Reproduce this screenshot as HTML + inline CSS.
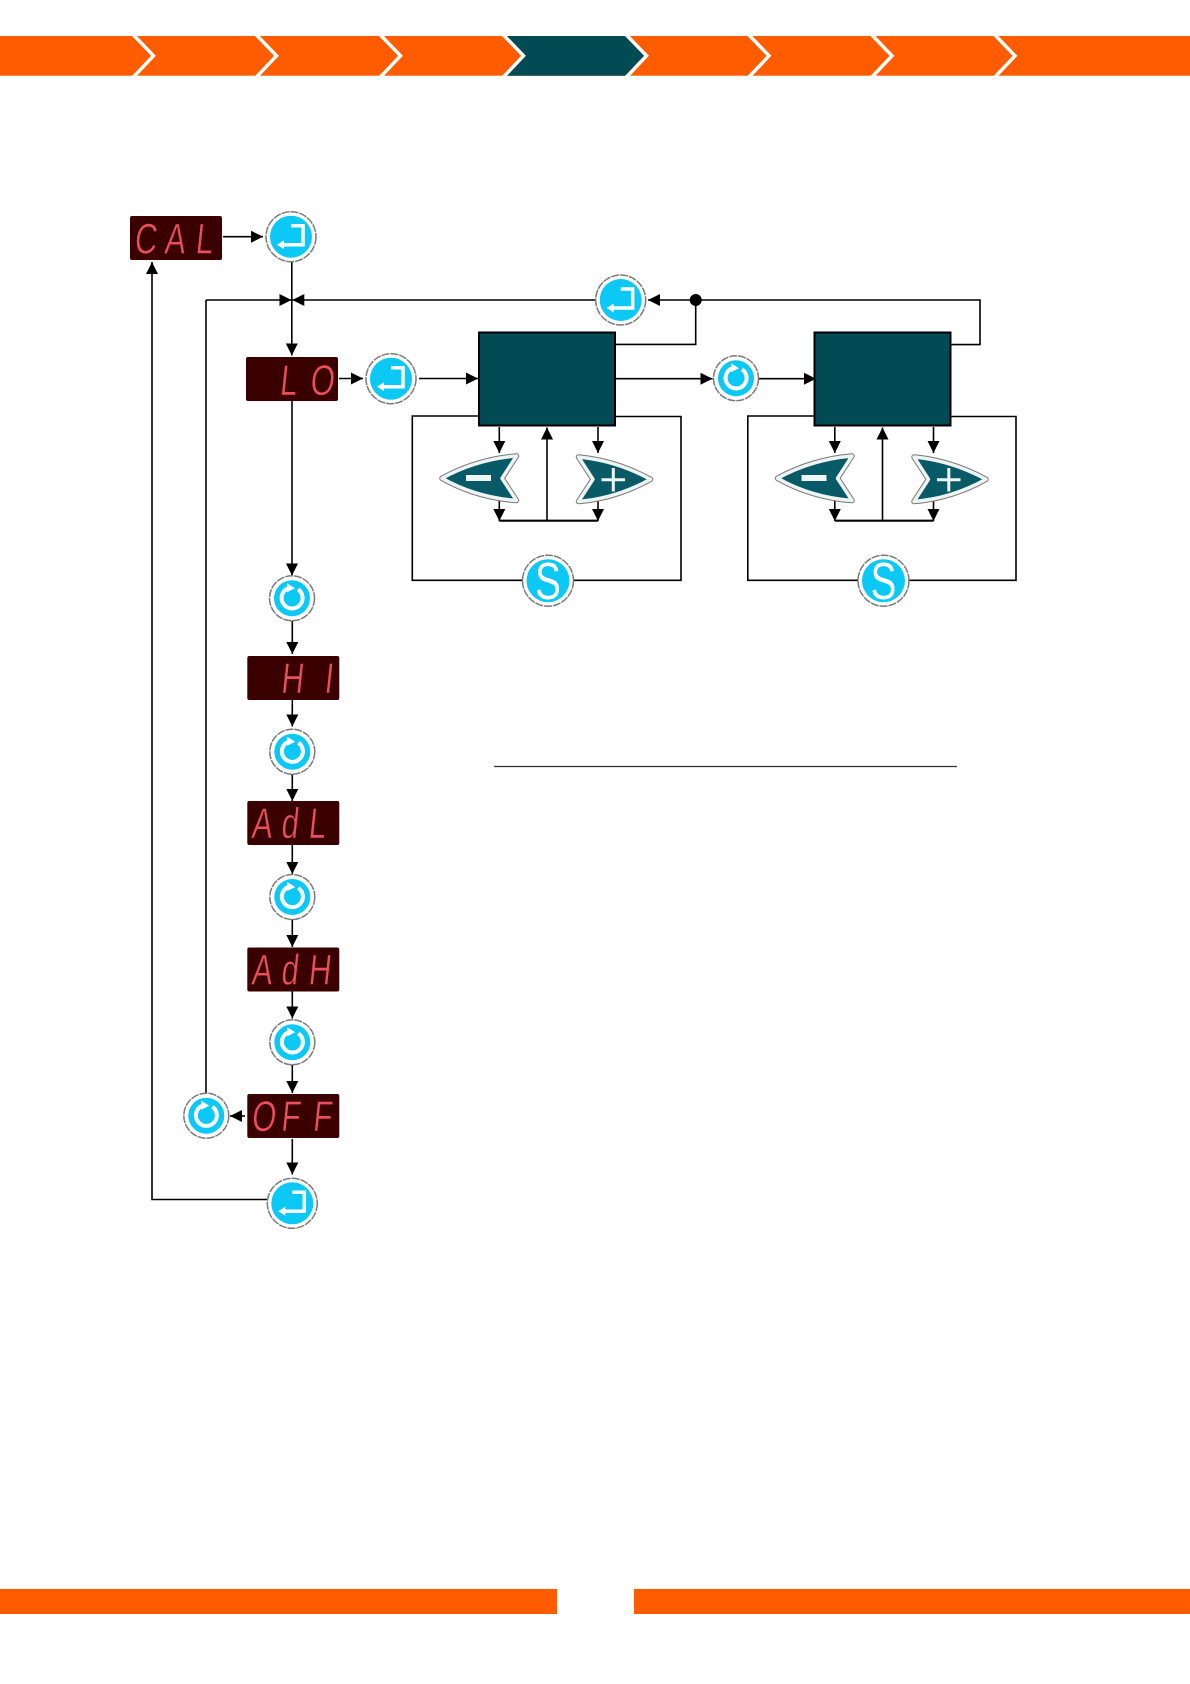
<!DOCTYPE html>
<html lang="en">
<head>
<meta charset="utf-8">
<title>Calibration menu diagram</title>
<style>
html,body{margin:0;padding:0;background:#fff}
svg{display:block}
.l{stroke:#000;stroke-width:1.6;fill:none}
.d{font-family:"Liberation Sans",sans-serif;font-size:43px;fill:#ea4f5c;stroke:#3a0000;stroke-width:.6;paint-order:fill stroke}
.s{font-family:"Liberation Sans",sans-serif;font-size:52px;fill:#fff}
</style>
</head>
<body>
<svg width="1190" height="1684" viewBox="0 0 1190 1684" xmlns="http://www.w3.org/2000/svg">
<defs>
<marker id="a" markerUnits="userSpaceOnUse" markerWidth="13" markerHeight="13" refX="12" refY="6" orient="auto"><path d="M0,0 L12,6 L0,12 Z" fill="#000"/></marker>
<g id="enter">
<circle r="25" fill="#fff" stroke="#7a7a7a" stroke-width="1.5" stroke-dasharray="8 1"/>
<circle r="21" fill="#0cc8f4"/>
<path d="M0,-11 H12 V8 H-9" fill="none" stroke="#fff" stroke-width="3.5"/>
<path d="M-14,8 L-7,3.5 V12.5 Z" fill="#fff"/>
</g>
<g id="rot">
<circle r="22.5" fill="#fff" stroke="#7a7a7a" stroke-width="1.5" stroke-dasharray="8 1"/>
<circle r="18" fill="#0cc8f4"/>
<path d="M-4,-10 A10.5,10.5 0 1 0 6,-9" fill="none" stroke="#fff" stroke-width="4"/>
<path d="M-5,-15 L3,-10 L-5,-6 Z" fill="#fff"/>
</g>
<g id="btn">
<circle r="25.5" fill="#fff" stroke="#7a7a7a" stroke-width="1.5" stroke-dasharray="8 1"/>
<circle r="21.5" fill="#0cc8f4"/>
</g>
</defs>

<!-- top chevron bar -->
<rect x="0" y="36" width="1190" height="39.7" fill="#ff5c00"/>
<polygon points="502.5,36 523.5,55.8 502.5,75.7 625.5,75.7 646.5,55.8 625.5,36" fill="#024a54"/>
<g fill="none" stroke="#fff" stroke-width="3.5">
<polyline points="132.5,34 153.5,55.8 132.5,78"/>
<polyline points="255.5,34 276.5,55.8 255.5,78"/>
<polyline points="379.5,34 400.5,55.8 379.5,78"/>
<polyline points="502.5,34 523.5,55.8 502.5,78"/>
<polyline points="625.5,34 646.5,55.8 625.5,78"/>
<polyline points="748,34 769,55.8 748,78"/>
<polyline points="871,34 892,55.8 871,78"/>
<polyline points="994,34 1015,55.8 994,78"/>
</g>

<!-- bottom bars -->
<rect x="0" y="1589" width="557" height="25" fill="#ff5c00"/>
<rect x="634" y="1589" width="556" height="25" fill="#ff5c00"/>

<!-- divider -->
<line x1="494" y1="766.5" x2="957" y2="766.5" stroke="#333" stroke-width="1.2"/>

<!-- main connectors -->
<line class="l" x1="223" y1="236.7" x2="263" y2="236.7" marker-end="url(#a)"/>
<line class="l" x1="291.8" y1="262" x2="291.8" y2="355.5" marker-end="url(#a)"/>
<line class="l" x1="206" y1="300" x2="291.5" y2="300" marker-end="url(#a)"/>
<line class="l" x1="596" y1="300" x2="292.3" y2="300" marker-end="url(#a)"/>
<line class="l" x1="206" y1="300" x2="206" y2="1093"/>
<line class="l" x1="339" y1="378.5" x2="363" y2="378.5" marker-end="url(#a)"/>
<line class="l" x1="419" y1="378.5" x2="478" y2="378.5" marker-end="url(#a)"/>
<line class="l" x1="616" y1="378.7" x2="712.5" y2="378.7" marker-end="url(#a)"/>
<line class="l" x1="759" y1="378.7" x2="816" y2="378.7" marker-end="url(#a)"/>
<polyline class="l" points="616,344.4 695.7,344.4 695.7,300"/>
<line class="l" x1="695.7" y1="300" x2="648" y2="300" marker-end="url(#a)"/>
<polyline class="l" points="695.7,300 980,300 980,344.6 950,344.6"/>
<circle cx="695.7" cy="300" r="6" fill="#000"/>
<line class="l" x1="292" y1="400" x2="292" y2="575.5" marker-end="url(#a)"/>
<line class="l" x1="292.3" y1="620" x2="292.3" y2="654" marker-end="url(#a)"/>
<line class="l" x1="292.3" y1="700" x2="292.3" y2="726.5" marker-end="url(#a)"/>
<line class="l" x1="292.3" y1="774" x2="292.3" y2="801" marker-end="url(#a)"/>
<line class="l" x1="292.3" y1="845" x2="292.3" y2="874" marker-end="url(#a)"/>
<line class="l" x1="292.3" y1="919" x2="292.3" y2="947" marker-end="url(#a)"/>
<line class="l" x1="292.3" y1="991" x2="292.3" y2="1018.5" marker-end="url(#a)"/>
<line class="l" x1="292.3" y1="1064" x2="292.3" y2="1093" marker-end="url(#a)"/>
<line class="l" x1="245" y1="1116" x2="230" y2="1116" marker-end="url(#a)"/>
<line class="l" x1="292.3" y1="1139" x2="292.3" y2="1174.5" marker-end="url(#a)"/>
<polyline class="l" points="267,1199.5 152,1199.5 152,262" marker-end="url(#a)"/>

<!-- first setting group -->
<g>
<polyline class="l" points="478,416 412.3,416 412.3,580.3 681,580.3 681,416.5 616,416.5"/>
<line class="l" x1="499.3" y1="427" x2="499.3" y2="453" marker-end="url(#a)"/>
<line class="l" x1="598" y1="427" x2="598" y2="453" marker-end="url(#a)"/>
<line class="l" x1="547" y1="520.7" x2="547" y2="427.5" marker-end="url(#a)"/>
<line x1="499.3" y1="520.7" x2="598" y2="520.7" stroke="#000" stroke-width="2.2"/>
<line class="l" x1="499.3" y1="501" x2="499.3" y2="521" marker-end="url(#a)"/>
<line class="l" x1="598" y1="501" x2="598" y2="521" marker-end="url(#a)"/>
<rect x="479" y="332.5" width="136" height="93" fill="#024a54" stroke="#000" stroke-width="2"/>
<path d="M442,478.3 Q476,459.5 516.5,456 L502,478.3 L516.5,500.5 Q476,497.5 442,478.3 Z" fill="#075a66" stroke="#777" stroke-width="5.5" stroke-linejoin="round"/>
<path d="M442,478.3 Q476,459.5 516.5,456 L502,478.3 L516.5,500.5 Q476,497.5 442,478.3 Z" fill="#075a66" stroke="#eef3f3" stroke-width="3.5" stroke-linejoin="round"/>
<rect x="466" y="475" width="25" height="6" fill="#eef6f6"/>
<path d="M650.5,479.3 Q616,460.5 578.5,457 L593,479.3 L578.5,501.5 Q616,498.5 650.5,479.3 Z" fill="#075a66" stroke="#777" stroke-width="5.5" stroke-linejoin="round"/>
<path d="M650.5,479.3 Q616,460.5 578.5,457 L593,479.3 L578.5,501.5 Q616,498.5 650.5,479.3 Z" fill="#075a66" stroke="#eef3f3" stroke-width="3.5" stroke-linejoin="round"/>
<path d="M601.5,479.7 H625 M613.3,468 V491.5" stroke="#eef6f6" stroke-width="3" fill="none"/>
<use href="#btn" x="548" y="580.7"/>
<text class="s" transform="translate(548,599) scale(.74,1)" text-anchor="middle">S</text>
</g>

<!-- second setting group -->
<g transform="translate(335.5,0)">
<polyline class="l" points="478,416 412.3,416 412.3,580.3 680.5,580.3 680.5,416.5 616,416.5"/>
<line class="l" x1="499.3" y1="427" x2="499.3" y2="453" marker-end="url(#a)"/>
<line class="l" x1="598" y1="427" x2="598" y2="453" marker-end="url(#a)"/>
<line class="l" x1="547" y1="520.7" x2="547" y2="427.5" marker-end="url(#a)"/>
<line x1="499.3" y1="520.7" x2="598" y2="520.7" stroke="#000" stroke-width="2.2"/>
<line class="l" x1="499.3" y1="501" x2="499.3" y2="521" marker-end="url(#a)"/>
<line class="l" x1="598" y1="501" x2="598" y2="521" marker-end="url(#a)"/>
<rect x="479" y="332.5" width="136" height="93" fill="#024a54" stroke="#000" stroke-width="2"/>
<path d="M442,478.3 Q476,459.5 516.5,456 L502,478.3 L516.5,500.5 Q476,497.5 442,478.3 Z" fill="#075a66" stroke="#777" stroke-width="5.5" stroke-linejoin="round"/>
<path d="M442,478.3 Q476,459.5 516.5,456 L502,478.3 L516.5,500.5 Q476,497.5 442,478.3 Z" fill="#075a66" stroke="#eef3f3" stroke-width="3.5" stroke-linejoin="round"/>
<rect x="466" y="475" width="25" height="6" fill="#eef6f6"/>
<path d="M650.5,479.3 Q616,460.5 578.5,457 L593,479.3 L578.5,501.5 Q616,498.5 650.5,479.3 Z" fill="#075a66" stroke="#777" stroke-width="5.5" stroke-linejoin="round"/>
<path d="M650.5,479.3 Q616,460.5 578.5,457 L593,479.3 L578.5,501.5 Q616,498.5 650.5,479.3 Z" fill="#075a66" stroke="#eef3f3" stroke-width="3.5" stroke-linejoin="round"/>
<path d="M601.5,479.7 H625 M613.3,468 V491.5" stroke="#eef6f6" stroke-width="3" fill="none"/>
<use href="#btn" x="548" y="580.7"/>
<text class="s" transform="translate(548,599) scale(.74,1)" text-anchor="middle">S</text>
</g>

<!-- round buttons -->
<use href="#enter" x="291" y="236.7"/>
<use href="#enter" x="620.7" y="300"/>
<use href="#enter" x="391" y="378.7"/>
<use href="#enter" x="292.3" y="1203.3"/>
<use href="#rot" x="736" y="378.3"/>
<use href="#rot" x="292" y="598.3"/>
<use href="#rot" x="292.3" y="751.7"/>
<use href="#rot" x="292.3" y="897"/>
<use href="#rot" x="292.3" y="1042.3"/>
<use href="#rot" x="206.3" y="1115.7"/>

<!-- LED displays -->
<rect x="130" y="216" width="92" height="44" rx="2" fill="#3a0000"/>
<text class="d" x="5 47 90" y="0" transform="translate(130,253.3) skewX(-6) scale(.72,1)">CAL</text>
<rect x="246" y="357" width="92" height="44" rx="2" fill="#3a0000"/>
<text class="d" x="46 88" y="0" transform="translate(246,395) skewX(-6) scale(.72,1)">LO</text>
<rect x="247.3" y="656" width="92" height="44" rx="2" fill="#3a0000"/>
<text class="d" x="46 106" y="0" transform="translate(247.3,693) skewX(-6) scale(.72,1)">HI</text>
<rect x="247.3" y="801" width="92" height="44" rx="2" fill="#3a0000"/>
<text class="d" x="5 46 84" y="0" transform="translate(247.3,838) skewX(-6) scale(.72,1)">AdL</text>
<rect x="247.3" y="947.5" width="92" height="44" rx="2" fill="#3a0000"/>
<text class="d" x="5 46 84" y="0" transform="translate(247.3,984.5) skewX(-6) scale(.72,1)">AdH</text>
<rect x="247.3" y="1094" width="92" height="44" rx="2" fill="#3a0000"/>
<text class="d" x="5 46 90" y="0" transform="translate(247.3,1131) skewX(-6) scale(.72,1)">OFF</text>
</svg>
</body>
</html>
